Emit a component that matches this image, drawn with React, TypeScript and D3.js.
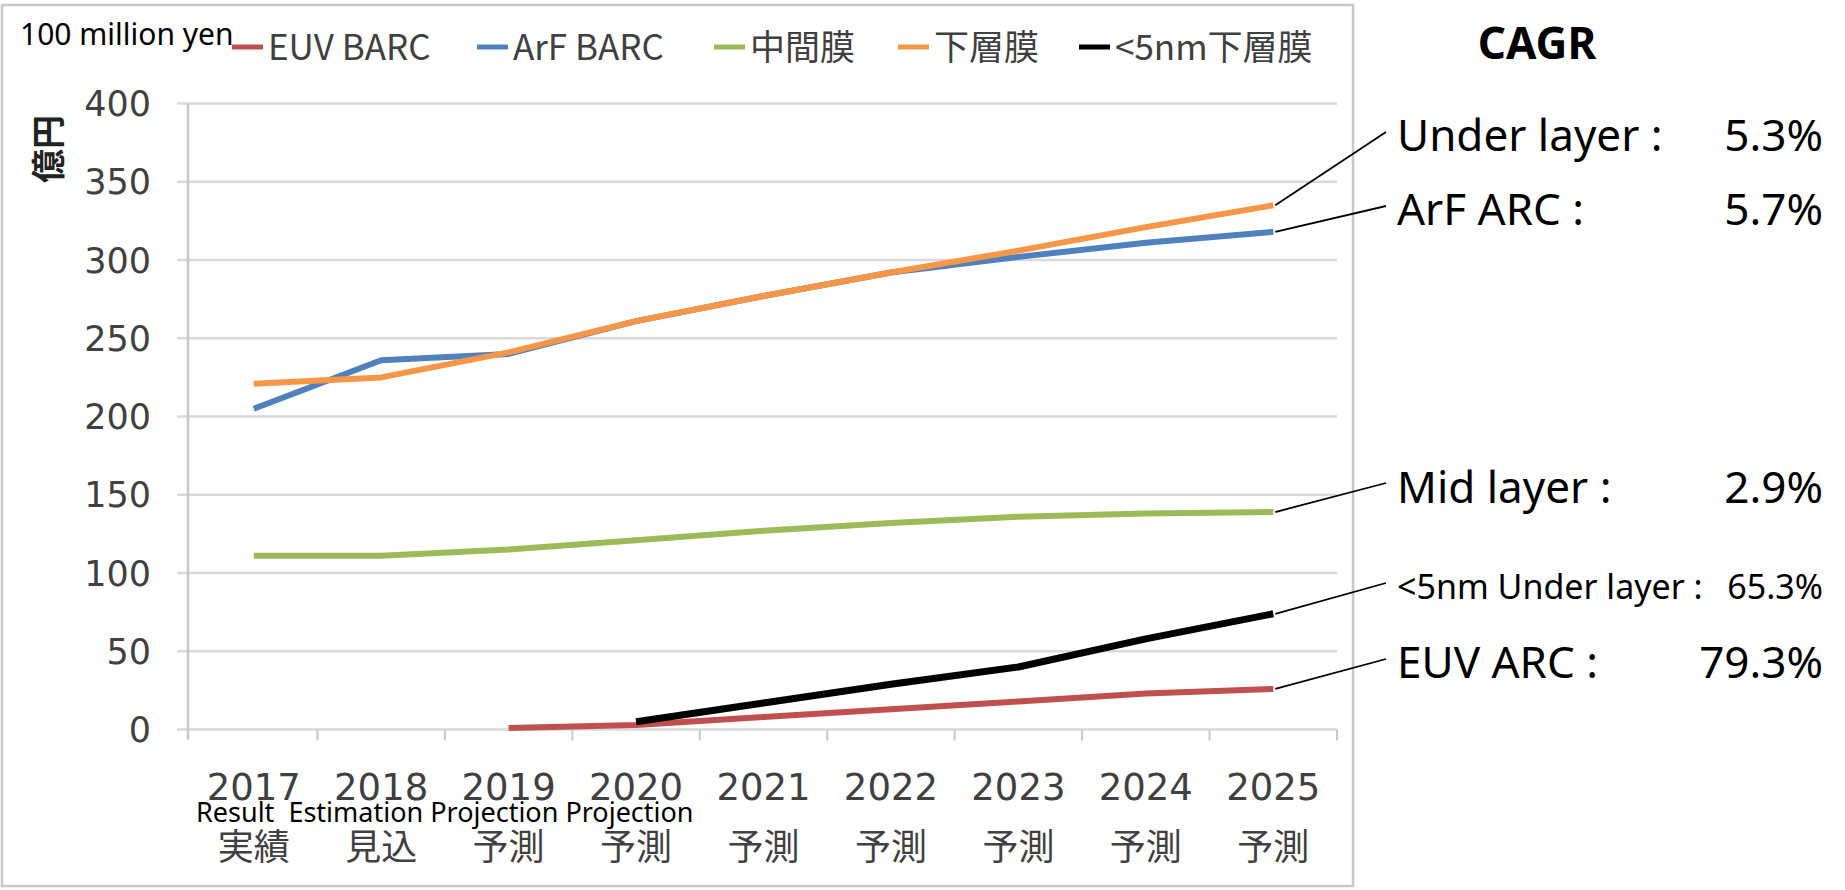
import React from 'react';
import * as d3 from 'd3';

// ---- data ----
const years = ['2017', '2018', '2019', '2020', '2021', '2022', '2023', '2024', '2025'];
const statusJa = ['実績', '見込', '予測', '予測', '予測', '予測', '予測', '予測', '予測'];
const statusEn = ['Result', ' Estimation', 'Projection', 'Projection'];

const euvBarc: (number | null)[] = [null, null, 1, 3, 8, 13, 18, 23, 26];
const arfBarc: (number | null)[] = [205, 236, 240, 261, 277, 292, 302, 311, 318];
const midLayer: (number | null)[] = [111, 111, 115, 121, 127, 132, 136, 138, 139];
const underLayer: (number | null)[] = [221, 225, 241, 261, 277, 292, 306, 321, 335];
const under5nm: (number | null)[] = [null, null, null, 5, 17, 29, 40, 58, 74];

const seriesNames = ['EUV BARC', 'ArF BARC', '中間膜', '下層膜', '<5nm下層膜'];
const seriesColors = ['#c0504d', '#4f81bd', '#9bbb59', '#f79646', '#000000'];
const seriesValues = [euvBarc, arfBarc, midLayer, underLayer, under5nm];

const yTicks = [0, 50, 100, 150, 200, 250, 300, 350, 400];

const cagrLabels = ['Under layer :', 'ArF ARC :', 'Mid layer :', '<5nm Under layer :', 'EUV ARC :'];
const cagrValues = ['5.3%', '5.7%', '2.9%', '65.3%', '79.3%'];
const cagrSeriesIndex = [3, 1, 2, 4, 0];

// ---- layout ----
const W = 1845;
const H = 890;
const plotLeft = 190;
const plotRight = 1337;
const plotTop = 103.5;
const plotBottom = 729.6;
const legendX = [232, 477, 714, 898, 1079];
const legendY = 47;
const cagrBaselines = [151, 225, 503, 599, 678];
const cagrLeaderEndY = [132, 206, 483, 583, 659];
const cagrFontSizes = [44, 44, 44, 34, 44];

export default function App() {
  const x = d3.scaleBand<string>().domain(years).range([plotLeft, plotRight]).padding(0);
  const bw = x.bandwidth();
  const xc = (i: number) => (x(years[i]) as number) + bw / 2;
  const y = d3.scaleLinear().domain([0, 400]).range([plotBottom, plotTop]);

  const line = d3
    .line<number | null>()
    .defined((d) => d !== null)
    .x((_, i) => xc(i))
    .y((d) => y(d as number));

  const gray = '#404040';
  const lastIdx = years.length - 1;

  return (
    <svg
      width={W}
      height={H}
      style={{ position: 'absolute', left: 0, top: 0, background: '#fff' }}
      fontFamily="'Noto Sans', sans-serif"
    >
      <rect x={0} y={0} width={W} height={H} fill="#fff" />
      {/* chart border */}
      <rect x={2} y={5} width={1351} height={881} fill="none" stroke="#c8c8c8" strokeWidth={2.5} />

      {/* gridlines */}
      {yTicks.map((t) => (
        <line key={t} x1={177} x2={plotRight} y1={y(t)} y2={y(t)} stroke="#d9d9d9" strokeWidth={2.5} />
      ))}
      {/* y axis line */}
      <line x1={plotLeft - 2} x2={plotLeft - 2} y1={plotTop} y2={plotBottom + 10} stroke="#c8c8c8" strokeWidth={2.5} />
      {/* x tick marks */}
      {years.map((yr) => (
        <line key={yr} x1={(x(yr) as number) + bw} x2={(x(yr) as number) + bw} y1={plotBottom} y2={plotBottom + 11} stroke="#c8c8c8" strokeWidth={2} />
      ))}

      {/* y tick labels */}
      {yTicks.map((t) => (
        <text key={t} x={151} y={y(t)} dy="0.36em" textAnchor="end" fontFamily="'DejaVu Sans', sans-serif" fontSize={35} fill={gray}>
          {t}
        </text>
      ))}
      {/* y title */}
      <text
        transform={`translate(61, 149) rotate(-90)`}
        textAnchor="middle"
        fontFamily="'Noto Sans CJK JP', sans-serif"
        fontWeight="bold"
        fontSize={34}
        fill="#222"
      >
        億円
      </text>

      {/* x labels */}
      {years.map((yr, i) => (
        <text key={yr} x={xc(i)} y={800} textAnchor="middle" fontFamily="'DejaVu Sans', sans-serif" fontSize={37} fill={gray}>
          {yr}
        </text>
      ))}
      {statusJa.map((s, i) => (
        <text key={i} x={xc(i)} y={860} textAnchor="middle" fontFamily="'Noto Sans CJK JP', sans-serif" fontSize={36} fill={gray}>
          {s}
        </text>
      ))}
      <text x={196} y={822} fontSize={27} fill="#000" xmlSpace="preserve" style={{ whiteSpace: 'pre' }}>
        {statusEn.join(' ')}
      </text>

      {/* series */}
      {seriesValues.map((vals, si) => (
        <path
          key={si}
          d={line(vals) || ''}
          fill="none"
          stroke={seriesColors[si]}
          strokeWidth={si === 4 ? 7 : 6}
          strokeLinejoin="round"
        />
      ))}

      {/* legend */}
      <text x={20} y={45} fontSize={30} fill="#000">100 million yen</text>
      {seriesNames.map((n, i) => (
        <g key={n}>
          <line x1={legendX[i]} x2={legendX[i] + 31} y1={legendY} y2={legendY} stroke={seriesColors[i]} strokeWidth={5} />
          <text x={legendX[i] + 36} y={legendY} dy="0.36em" fontFamily="'Noto Sans CJK JP', sans-serif" fontSize={35} fill={gray}>
            {n}
          </text>
        </g>
      ))}

      {/* CAGR */}
      <text x={1537} y={59} textAnchor="middle" fontWeight="bold" fontSize={44} fill="#000">
        CAGR
      </text>
      {cagrLabels.map((lab, i) => {
        const si = cagrSeriesIndex[i];
        const v = seriesValues[si][lastIdx] as number;
        return (
          <g key={lab}>
            <line x1={xc(lastIdx) + 2} y1={y(v)} x2={1386} y2={cagrLeaderEndY[i]} stroke="#000" strokeWidth={1.8} />
            <text x={1397} y={cagrBaselines[i]} fontSize={cagrFontSizes[i]} fill="#000">
              {lab}
            </text>
            <text x={1823} y={cagrBaselines[i]} textAnchor="end" fontSize={cagrFontSizes[i]} fill="#000">
              {cagrValues[i]}
            </text>
          </g>
        );
      })}
    </svg>
  );
}
